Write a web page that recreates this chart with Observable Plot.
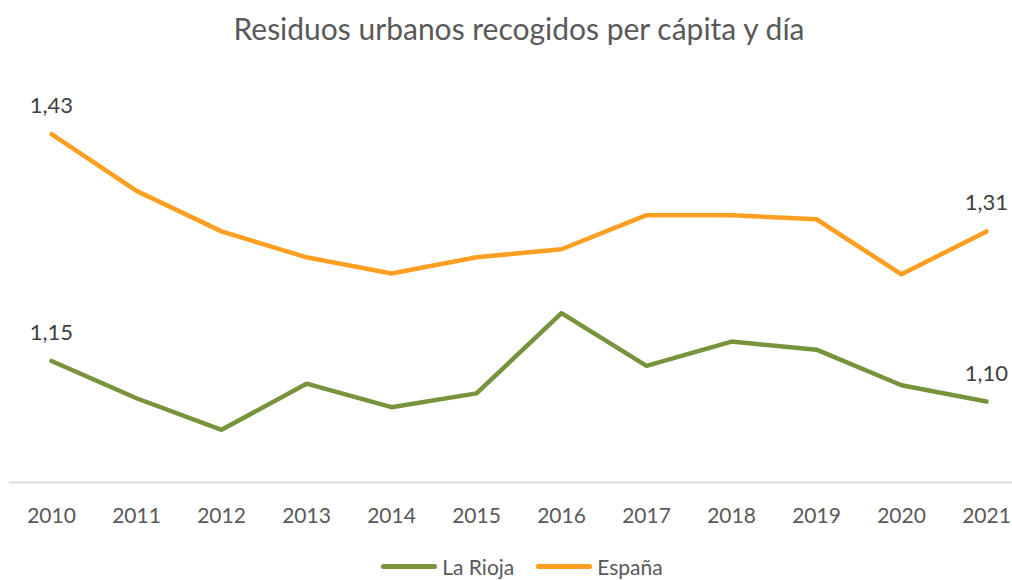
<!DOCTYPE html>
<html>
<head>
<meta charset="utf-8">
<script src="https://cdn.jsdelivr.net/npm/d3@7"></script>
<script src="https://cdn.jsdelivr.net/npm/@observablehq/plot@0.6"></script>
<style>
  html, body { margin: 0; padding: 0; background: #fff; width: 1012px; height: 580px; overflow: hidden; }
  body { font-family: Lato, "Open Sans", sans-serif; position: relative; }
  #title { position: absolute; left: 0; top: 10px; width: 1012px; padding-left: 26px; box-sizing: border-box; text-align: center; font-size: 30px; color: #595959; letter-spacing: 0px; }
  #chart { position: absolute; left: 0; top: 60px; }
  #legend { position: absolute; top: 554px; left: 0; width: 1012px; display: flex; justify-content: center; gap: 22px; font-size: 21px; color: #595959; padding-left: 32px; box-sizing: border-box; }
  .item { display: flex; align-items: center; gap: 5px; }
  .sw { width: 56px; height: 5px; border-radius: 2.5px; }
</style>
</head>
<body>
<div id="title">Residuos urbanos recogidos per cápita y día</div>
<div id="chart"></div>
<div id="legend"></div>
<script>
const years = ["2010","2011","2012","2013","2014","2015","2016","2017","2018","2019","2020","2021"];
const laRioja = [1.15, 1.104, 1.065, 1.122, 1.093, 1.11, 1.209, 1.144, 1.174, 1.164, 1.12, 1.10];
const espana  = [1.43, 1.36, 1.31, 1.278, 1.258, 1.278, 1.288, 1.33, 1.33, 1.325, 1.257, 1.31];
const seriesNames = ["La Rioja", "España"];
const seriesColors = ["#77933c", "#ff9f21"];

const data = [];
years.forEach((y, i) => {
  data.push({year: y, value: laRioja[i], series: seriesNames[0]});
  data.push({year: y, value: espana[i], series: seriesNames[1]});
});
const endpoints = data.filter(d => d.year === years[0] || d.year === years[years.length - 1]);
const fmt = v => d3.format(".2f")(v).replace(".", ",");

const chart = Plot.plot({
  width: 1012,
  height: 470,
  marginTop: 17,
  marginBottom: 48,
  marginLeft: 9,
  marginRight: 0,
  style: { fontFamily: "Lato, 'Open Sans', sans-serif", background: "#fff" },
  x: { type: "point", domain: years, range: [50, 987], padding: 0, label: null },
  y: { domain: [1.0, 1.5], axis: null },
  color: { domain: seriesNames, range: seriesColors },
  marks: [
    Plot.ruleY([1.0], { stroke: "#d9d9d9", strokeWidth: 2 }),
    Plot.axisX({ tickSize: 0, tickPadding: 26, fontSize: 21, fill: "#595959" }),
    Plot.line(data, { x: "year", y: "value", stroke: "series", strokeWidth: 4.5, strokeLinecap: "round", strokeLinejoin: "round" }),
    Plot.text(endpoints, { x: "year", y: "value", text: d => fmt(d.value), dy: -28, fontSize: 22, fill: "#404040" })
  ]
});
document.getElementById("chart").appendChild(chart);

const legend = document.getElementById("legend");
seriesNames.forEach((n, i) => {
  const it = document.createElement("div");
  it.className = "item";
  it.innerHTML = `<span class="sw" style="background:${seriesColors[i]}"></span><span>${n}</span>`;
  legend.appendChild(it);
});
</script>
</body>
</html>
